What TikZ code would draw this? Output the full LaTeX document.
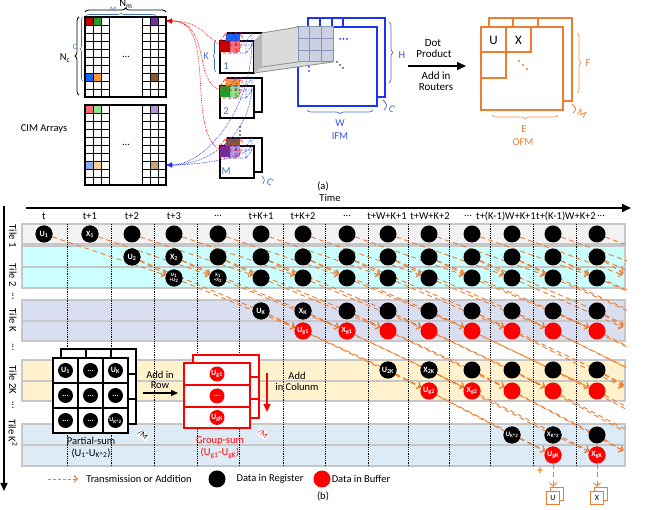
\documentclass[tikz,border=0pt]{standalone}
\usepackage{fontspec}
\setmainfont{Carlito}
\usetikzlibrary{arrows.meta,decorations.pathreplacing,positioning}

\definecolor{naranja}{RGB}{237,125,49}
\definecolor{azulifm}{RGB}{30,50,245}
\definecolor{azultx}{RGB}{55,85,235}
\definecolor{azulk}{RGB}{68,114,196}
\definecolor{fila1}{RGB}{242,242,242}
\definecolor{fila2}{RGB}{204,255,255}
\definecolor{filak}{RGB}{217,222,241}
\definecolor{fila2k}{RGB}{255,242,204}
\definecolor{filaq}{RGB}{221,235,247}
\definecolor{rojo}{RGB}{192,0,0}
\definecolor{verde}{RGB}{30,160,40}
\definecolor{morado}{RGB}{112,48,160}
\definecolor{azul}{RGB}{20,100,255}
\definecolor{naranjo}{RGB}{255,150,50}
\definecolor{cafe}{RGB}{140,90,50}
\definecolor{rojoc}{RGB}{255,110,110}
\definecolor{verdec}{RGB}{140,230,140}
\definecolor{moradoc}{RGB}{180,150,220}
\definecolor{azulc}{RGB}{140,170,240}
\definecolor{naranjoc}{RGB}{255,205,150}
\definecolor{cafec}{RGB}{200,165,125}
\definecolor{ventana}{RGB}{205,208,225}

\newcommand{\tresp}{...}

\tikzstyle{reg}= [circle,fill=black,text=white,minimum size=17pt,inner sep=0pt,font=\fontsize{8}{8}\selectfont\bfseries]
\tikzstyle{buf}= [reg,fill=red]
\tikzstyle{hueco}= [circle,minimum size=17pt,inner sep=0pt]
\tikzstyle{flujo}= [naranja,line width=0.9pt,dash pattern=on 5pt off 3.5pt]
\tikzstyle{flecha}= [flujo,-{Straight Barb[length=3.5pt,width=7pt]}]
\tikzstyle{banda}= [draw=black!22,line width=1.2pt]
\tikzstyle{celda}= [draw=black,line width=0.6pt]
\tikzstyle{llave}= [decorate,decoration={brace,amplitude=4pt}]
\tikzstyle{caja}= [rectangle,draw=naranja,line width=1.3pt,fill=white,minimum size=13pt,inner sep=0pt,text=black,font=\fontsize{8}{8}\selectfont]

\begin{document}
\begin{tikzpicture}[x=1pt,y=-1pt,font=\fontsize{10.5}{12}\selectfont]
\useasboundingbox (0,0) rectangle (649,510);

% ---------- (a) CIM arrays
\foreach \dy/\ca/\cb/\cc/\cd/\ce/\cf in {0/rojo/verde/morado/azul/naranjo/cafe,88/rojoc/verdec/moradoc/azulc/naranjoc/cafec}{
  \begin{scope}[shift={(0,\dy)}]
    \fill[\ca] (85,17) rectangle (93,25);
    \fill[\cb] (93,17) rectangle (101,25);
    \fill[\cc] (150,17) rectangle (158,25);
    \fill[\cd] (85,73) rectangle (93,81);
    \fill[\ce] (93,73) rectangle (101,81);
    \fill[\cf] (150,73) rectangle (158,81);
    \foreach \k in {1,...,9} {
      \draw[celda] (85,{17+8*\k}) -- (109,{17+8*\k});
      \draw[celda] (142,{17+8*\k}) -- (166,{17+8*\k});
    }
    \draw[celda] (93,17) -- (93,97) (101,17) -- (101,97) (150,17) -- (150,97) (158,17) -- (158,97);
    \draw[line width=1pt] (109,17) -- (109,97) (142,17) -- (142,97);
    \draw[line width=1.4pt] (85,17) rectangle (166,97);
    \node (dots\dy) at (126,57) {\tresp};
  \end{scope}
}
\draw[llave,line width=0.8pt] (85,12) -- (166,12);
\node (nm) at (126,4) {N\textsubscript{m}};
\draw[llave,azulk,line width=0.6pt,decoration={amplitude=3pt}] (86,16) -- (156,16);
\node[azulk,font=\fontsize{7}{7}\selectfont] (mb) at (113,9) {M};
\draw[llave,line width=0.8pt] (79,95) -- (79,17);
\node (nc) at (65,58) {N\textsubscript{c}};
\draw[llave,azulk,line width=0.6pt,decoration={amplitude=3pt}] (83,81) -- (83,17);
\node[azulk,font=\fontsize{8}{8}\selectfont] (cb) at (75,47) {C};
\node (cim) at (44,129) {CIM Arrays};

% ---------- kernels
\foreach \y/\ca/\cb/\cc/\n in {41/rojo/rojoc/azul/1,86/verde/verdec/naranjo/2,146/morado/moradoc/cafe/M}{
  \draw[line width=1.3pt,fill=white] (228,\y-8) rectangle (262,\y+26);
  \draw[line width=1.3pt,fill=white] (220,\y) rectangle (254,\y+32);
  \fill[\cc] (226,\y-7) rectangle (240,\y);
  \fill[\ca] (220,\y) rectangle (230,\y+11);
  \fill[\cb] (230,\y) rectangle (240,\y+11);
  \draw[red,densely dashed,line width=0.6pt] (220,\y) rectangle (236,\y+12) (226,\y-8) rectangle (242,\y+4)
    (220,\y) -- (226,\y-8) (236,\y) -- (242,\y-8) (236,\y+12) -- (242,\y+4);
  \draw[azulifm,densely dotted,line width=0.7pt] (230,\y) rectangle (246,\y+12) (236,\y-8) rectangle (252,\y+4)
    (230,\y) -- (236,\y-8) (246,\y) -- (252,\y-8) (246,\y+12) -- (252,\y+4);
  \node[azulk] (kn\n) at (226,\y+25) {\n};
  \coordinate (kr\n) at (220,\y+4);
  \coordinate (kb\n) at (252,\y);
}
\foreach \y in {127,131,135} \fill (240,\y) circle (0.9pt);
\draw[llave,azulk,line width=0.6pt,decoration={amplitude=3pt}] (216,72) -- (216,40);
\node[azulk] (kk) at (206,56) {K};
\draw[azulk,line width=0.7pt] (262,176) .. controls (265,179) and (265,182) .. (263,184);
\node[azulk,rotate=-30] (kc) at (270,182) {C};

% CIM <-> kernel curves
\coordinate (cr) at (166,21);
\coordinate (cbl) at (166,165);
\draw[red,densely dotted,line width=0.7pt,-{Latex[length=6pt,width=5pt]}] (kr1) .. controls (205,36) and (200,21) .. (cr);
\draw[red,densely dotted,line width=0.7pt,-{Latex[length=6pt,width=5pt]}] (kr2) .. controls (192,80) and (212,22) .. (cr);
\draw[red,densely dotted,line width=0.7pt,-{Latex[length=6pt,width=5pt]}] (krM) .. controls (185,130) and (218,20) .. (cr);
\draw[azulifm,densely dotted,line width=0.7pt,-{Latex[length=6pt,width=5pt]}] (kb1) .. controls (252,110) and (205,165) .. (cbl);
\draw[azulifm,densely dotted,line width=0.7pt,-{Latex[length=6pt,width=5pt]}] (kb2) .. controls (250,135) and (210,165) .. (cbl);
\draw[azulifm,densely dotted,line width=0.7pt,-{Latex[length=6pt,width=5pt]}] (kbM) .. controls (245,158) and (200,165) .. (cbl);

% ---------- IFM
\draw[azulifm,line width=1.6pt,fill=white] (308,18) rectangle (385,97);
\draw[azulifm,line width=1.6pt] (320,18) -- (320,27) (332,18) -- (332,27) (343,18) -- (343,27);
\draw[azulifm,line width=1.6pt,fill=white] (298,27) rectangle (377,106);
\fill[black!14] (262,33) -- (298,27) -- (333,27) -- (333,62) -- (254,73) -- (262,67) -- cycle;
\fill[black!28] (254,41) -- (262,33) -- (262,67) -- (254,73) -- cycle;
\draw[black!45,line width=0.8pt] (262,33) -- (298,27) (262,67) -- (298,62) (254,73) -- (333,62);
\fill[ventana] (298,27) rectangle (333,62);
\draw[azulk!70!black!60,line width=1pt] (298,27) rectangle (333,62) (309.7,27) -- (309.7,62) (321.3,27) -- (321.3,62)
  (298,38.7) -- (333,38.7) (298,50.3) -- (333,50.3);
\foreach \x in {340,343.5,347} \fill[azulifm] (\x,39) circle (1pt);
\foreach \d in {0,3,6} \fill[azulifm] (337+\d,62+\d) circle (1pt);
\foreach \y in {67,71} \fill[azulifm] (309,\y) circle (1pt);
\draw[llave,azulk,line width=0.7pt] (389,22) -- (389,83);
\node[azultx] (hh) at (402,55) {H};
\draw[llave,azulk,line width=0.7pt] (373,110) -- (307,110);
\node[azultx] (ww) at (340,123) {W};
\node[azultx] (ifm) at (340,136) {IFM};
\draw[azulk,line width=0.8pt] (383,100) .. controls (387,103) and (388,107) .. (384,110);
\node[azulk,rotate=-30] (ic) at (392,109) {C};

% ---------- dot product arrow
\coordinate (dpa) at (408,66);
\coordinate (dpb) at (466,66);
\draw[line width=1.5pt,-{Triangle[length=9pt,width=8pt]}] (dpa) -- (dpb);
\node[font=\fontsize{11}{12}\selectfont] (dp1) at (433,43) {Dot};
\node[font=\fontsize{11}{12}\selectfont] (dp2) at (434,54) {Product};
\node[font=\fontsize{11}{12}\selectfont] (dp3) at (436,76) {Add in};
\node[font=\fontsize{11}{12}\selectfont] (dp4) at (436,87) {Routers};

% ---------- OFM
\draw[naranja,line width=1.6pt,fill=white] (489,18) rectangle (572,101);
\draw[naranja,line width=1.6pt] (513,18) -- (513,27) (538,18) -- (538,27);
\draw[naranja,line width=1.6pt,fill=white] (481,27) rectangle (563,110);
\draw[naranja,line width=1.6pt] (481,52) -- (531,52) -- (531,27) (506,27) -- (506,78) -- (481,78);
\node[font=\fontsize{13}{13}\selectfont] (ou) at (493.5,40) {U};
\node[font=\fontsize{13}{13}\selectfont] (ox) at (518.5,40) {X};
\foreach \d in {0,4,8} \fill[naranja] (519+\d,61+\d) circle (1.2pt);
\draw[llave,naranja!80,line width=0.7pt] (577,33) -- (577,93);
\node[naranja] (of) at (588,63) {F};
\draw[llave,naranja!80,line width=0.7pt] (558,115) -- (492,115);
\node[naranja] (oe) at (524,129) {E};
\node[naranja] (ofm) at (523,142) {OFM};
\draw[naranja,line width=0.8pt] (572,104) .. controls (576,107) and (577,110) .. (573,113);
\node[naranja,rotate=-30] (om) at (582,114) {M};

\node (la) at (323,186) {(a)};

% ---------- (b) axes
\coordinate (ta) at (26,208);
\coordinate (tb) at (631,208);
\draw[line width=2pt,-{Triangle[length=9pt,width=8pt]}] (ta) -- (tb);
\node (time) at (330,198) {Time};
\coordinate (sa) at (4,206);
\coordinate (sb) at (4,491);
\draw[line width=1.5pt,-{Triangle[length=8pt,width=7pt]}] (sa) -- (sb);

\foreach \x/\t [count=\i] in {44/t,90/t+1,132/t+2,174/t+3,218/\tresp,261/t+K+1,303/t+K+2,347/\tresp,387/t+W+K+1,430/t+W+K+2,468/\tresp,506/t+(K-1)W+K+1,566/t+(K-1)W+K+2,601/\tresp}
  \node (hd\i) at (\x,216) {\t};

% bands
\foreach \ya/\yb/\c in {224/244/fila1,246/288/fila2,300/341/filak,360/401/fila2k,424/466/filaq}
  \draw[banda,fill=\c] (22,\ya) rectangle (625,\yb);
\foreach \ym in {267,321,381,445}
  \draw[banda] (22,\ym) -- (625,\ym);
\foreach \x in {67,111,154,197,239,283,325,368,408,449,490,533,576}
  \draw[densely dotted,line width=0.8pt] (\x,224) -- (\x,466);

\foreach \y/\t [count=\i] in {236/Tile 1,275/Tile 2,296/\tresp,320/Tile K,347/\tresp,380/Tile 2K,405/\tresp,433/Tile K\textsuperscript{2}}
  \node[rotate=-90] (tl\i) at (13,\y) {\t};

% slots
\foreach \r/\y in {t1/234,2a/257,2b/278,Ka/311,Kb/331,Ja/370,Jb/391,Qa/435,Qb/455}
  \foreach \x [count=\i from 0] in {44,90,132,174,218,261,303,347,388,429,472,512,553,597,631,674,717}
    \node[hueco] (\r-\i) at (\x,\y) {};

% transmission / addition
\begin{scope}
  \clip (22,220) rectangle (627,468);
  \foreach \a/\b/\s/\k/\st in {t1/2b/0/3/flecha,2a/2b/2/1/flecha,2a/Ka/2/3/flujo,2b/Kb/3/3/flecha,Ka/Kb/5/1/flecha,Ka/Ja/5/3/flujo,Kb/Jb/6/3/flecha,Ja/Jb/8/1/flecha,Ja/Qa/8/3/flujo,Jb/Qb/9/3/flecha,Qa/Qb/11/1/flecha}{
    \foreach \i in {\s,...,13}{
      \pgfmathtruncatemacro{\j}{\i+\k}
      \draw[\st] (\a-\i) -- (\b-\j);
    }
  }
\end{scope}

% data
\foreach \r/\s/\st in {t1/0/reg,2a/2/reg,2b/3/reg,Ka/5/reg,Kb/6/buf,Ja/8/reg,Jb/9/buf,Qa/11/reg,Qb/12/buf}
  \foreach \i in {\s,...,13}
    \node[\st] (d\r-\i) at (\r-\i) {};
\node[reg] (u1) at (t1-0) {U\textsubscript{1}};
\node[reg] (x1) at (t1-1) {X\textsubscript{1}};
\node[reg] (u2) at (2a-2) {U\textsubscript{2}};
\node[reg] (x2) at (2a-3) {X\textsubscript{2}};
\node[reg,align=center,font=\fontsize{5}{5}\selectfont\bfseries] (u12) at (2b-3) {U\textsubscript{1}\\+U\textsubscript{2}};
\node[reg,align=center,font=\fontsize{5}{5}\selectfont\bfseries] (x12) at (2b-4) {X\textsubscript{1}\\+X\textsubscript{2}};
\node[reg] (uk) at (Ka-5) {U\textsubscript{K}};
\node[reg] (xk) at (Ka-6) {X\textsubscript{K}};
\node[buf] (ug1) at (Kb-6) {U\textsubscript{g1}};
\node[buf] (xg1) at (Kb-7) {X\textsubscript{g1}};
\node[reg] (u2k) at (Ja-8) {U\textsubscript{2K}};
\node[reg] (x2k) at (Ja-9) {X\textsubscript{2K}};
\node[buf] (ug2) at (Jb-9) {U\textsubscript{g2}};
\node[buf] (xg2) at (Jb-10) {X\textsubscript{g2}};
\node[reg,font=\fontsize{7}{7}\selectfont\bfseries] (ukk) at (Qa-11) {U\textsubscript{K\textasciicircum 2}};
\node[reg,font=\fontsize{7}{7}\selectfont\bfseries] (xkk) at (Qa-12) {X\textsubscript{K\textasciicircum 2}};
\node[buf] (ugk) at (Qb-12) {U\textsubscript{gK}};
\node[buf] (xgk) at (Qb-13) {X\textsubscript{gK}};

% partial-sum
\draw[line width=1.5pt,fill=white] (61,349) rectangle (136,424);
\draw[line width=1.5pt] (86,349) -- (86,424) (111,349) -- (111,424) (61,374) -- (136,374) (61,399) -- (136,399);
\draw[line width=1.5pt,fill=white] (53,358) rectangle (128,433);
\draw[line width=1.5pt] (78,358) -- (78,433) (103,358) -- (103,433) (53,383) -- (128,383) (53,408) -- (128,408);
\foreach \x/\y/\t [count=\i] in {65.5/370.5/U\textsubscript{1},90.5/370.5/\tresp,115.5/370.5/U\textsubscript{K},
    65.5/395.5/\tresp,90.5/395.5/\tresp,115.5/395.5/\tresp,65.5/420.5/\tresp,90.5/420.5/\tresp}
  \node[reg,minimum size=15pt] (ps\i) at (\x,\y) {\t};
\node[reg,minimum size=15pt,font=\fontsize{6}{6}\selectfont\bfseries] (ps9) at (115.5,420.5) {U\textsubscript{K\textasciicircum 2}};
\node (pl1) at (91,441) {Partial-sum};
\node (pl2) at (91,453) {(U\textsubscript{1}-U\textsubscript{K\textasciicircum 2})};
\node[fill=white,inner sep=0.6pt,rotate=-40,font=\fontsize{8}{8}\selectfont] (pm) at (143,435) {/M};

\coordinate (ra) at (143,393);
\coordinate (rb) at (178,393);
\draw[line width=1.2pt,-{Triangle[length=7pt,width=6pt]}] (ra) -- (rb);
\node (ar1) at (160,375) {Add in};
\node (ar2) at (160,385) {Row};

% group-sum
\draw[red,line width=1.5pt,fill=white] (193,355) rectangle (259,418);
\draw[red,line width=1.5pt] (193,377) -- (259,377) (193,399) -- (259,399);
\draw[red,line width=1.5pt,fill=white] (184,363) rectangle (250,428);
\draw[red,line width=1.5pt] (184,385) -- (250,385) (184,407) -- (250,407);
\node[buf,minimum size=15pt] (gs1) at (217,374) {U\textsubscript{g1}};
\node[buf,minimum size=15pt] (gs2) at (217,396) {\tresp};
\node[buf,minimum size=15pt] (gs3) at (217,417.5) {U\textsubscript{gK}};
\coordinate (ca) at (267,373);
\coordinate (cb) at (267,412);
\draw[red,line width=1.3pt,-{Triangle[length=8pt,width=7pt]}] (ca) -- (cb);
\node (ac1) at (297,376) {Add};
\node (ac2) at (297,387) {in Colunm};
\node[red] (gl1) at (220,441) {Group-sum};
\node[red] (gl2) at (220,453) {(U\textsubscript{g1}-U\textsubscript{gK})};
\node[red,fill=white,inner sep=0.6pt,rotate=-40,font=\fontsize{8}{8}\selectfont] (gm) at (263,434) {/M};

% outputs
\node[caja] (ub) at (557,494) {};
\node[caja] (uf) at (553,498) {U};
\node[caja] (xb) at (601,494) {};
\node[caja] (xf) at (597,498) {X};
\draw[flecha] (ugk) -- (ugk |- ub.north);
\draw[flecha] (xgk) -- (xgk |- xb.north);
\node[naranja,font=\fontsize{12}{12}\selectfont\bfseries] (plus) at (540,471) {+};

% legend
\coordinate (lg1) at (48,479);
\coordinate (lg2) at (78,479);
\draw[flujo,dash pattern=on 3pt off 2pt,-{Straight Barb[length=3.5pt,width=7pt]}] (lg1) -- (lg2);
\node (lt) at (139,479) {Transmission or Addition};
\node[reg] (lr) at (217,479) {};
\node (lrt) at (270,479) {Data in Register};
\node[buf] (lb) at (322,479) {};
\node (lbt) at (361,479) {Data in Buffer};
\node (lbb) at (323,496) {(b)};
\end{tikzpicture}
\end{document}
